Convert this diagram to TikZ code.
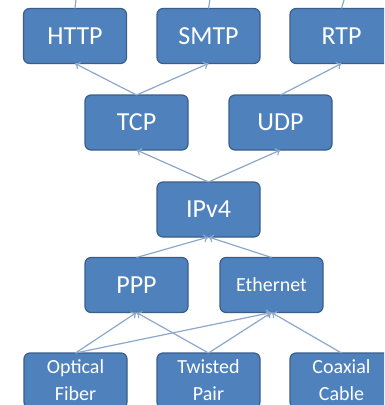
\documentclass[tikz,border=0pt]{standalone}
\usepackage{fontspec}
\setmainfont{Carlito}
\usetikzlibrary{arrows.meta}

\definecolor{boxfill}{HTML}{4F81BD}
\definecolor{boxline}{HTML}{3A5F8B}
\definecolor{linkcol}{RGB}{140,168,204}

\begin{document}
\begin{tikzpicture}[x=1pt, y=-1pt,
    box/.style={draw=boxline, fill=boxfill, line width=1.2pt, rounded corners=6pt,
      minimum width=103pt, minimum height=55pt, inner sep=0pt, outer sep=0pt,
      text=white, align=center, font=\fontsize{26}{30}\selectfont},
    small/.style={font=\fontsize{20}{27}\selectfont},
    link/.style={draw=linkcol, line width=1.2pt, -{To[length=5pt,width=8pt]}}
  ]
  \clip (0,0) rectangle (384,405);
  \fill[white] (0,0) rectangle (384,405);

  \node[box] (http) at (75,36) {HTTP};
  \node[box] (smtp) at (208.5,36) {SMTP};
  \node[box] (rtp) at (341.5,36) {RTP};
  \node[box] (tcp) at (136.5,122.5) {TCP};
  \node[box] (udp) at (280.5,122.5) {UDP};
  \node[box] (ip) at (208.5,209.5) {IPv4};
  \node[box] (ppp) at (136.5,285) {PPP};
  \node[box, small] (eth) at (271.5,285) {Ethernet};
  \node[box, small] (fib) at (75.5,380.5) {Optical\\Fiber};
  \node[box, small] (tp) at (208.5,380.5) {Twisted\\Pair};
  \node[box, small] (coax) at (341.5,380.5) {Coaxial\\Cable};

  \coordinate (up1) at (78,-20);
  \coordinate (up2) at (213,-20);
  \coordinate (up3) at (350,-20);

  \draw[link] (http.north) -- (up1);
  \draw[link] (smtp.north) -- (up2);
  \draw[link] (rtp.north) -- (up3);
  \draw[link] (tcp.north) -- (http.south);
  \draw[link] (tcp.north) -- (smtp.south);
  \draw[link] (udp.north) -- (rtp.south);
  \draw[link] (ip.north) -- (tcp.south);
  \draw[link] (ip.north) -- (udp.south);
  \draw[link] (ppp.north) -- (ip.south);
  \draw[link] (eth.north) -- (ip.south);
  \draw[link] (fib.north) -- (ppp.south);
  \draw[link] (fib.north) -- (eth.south);
  \draw[link] (tp.north) -- (ppp.south);
  \draw[link] (tp.north) -- (eth.south);
  \draw[link] (coax.north) -- (eth.south);
\end{tikzpicture}
\end{document}
